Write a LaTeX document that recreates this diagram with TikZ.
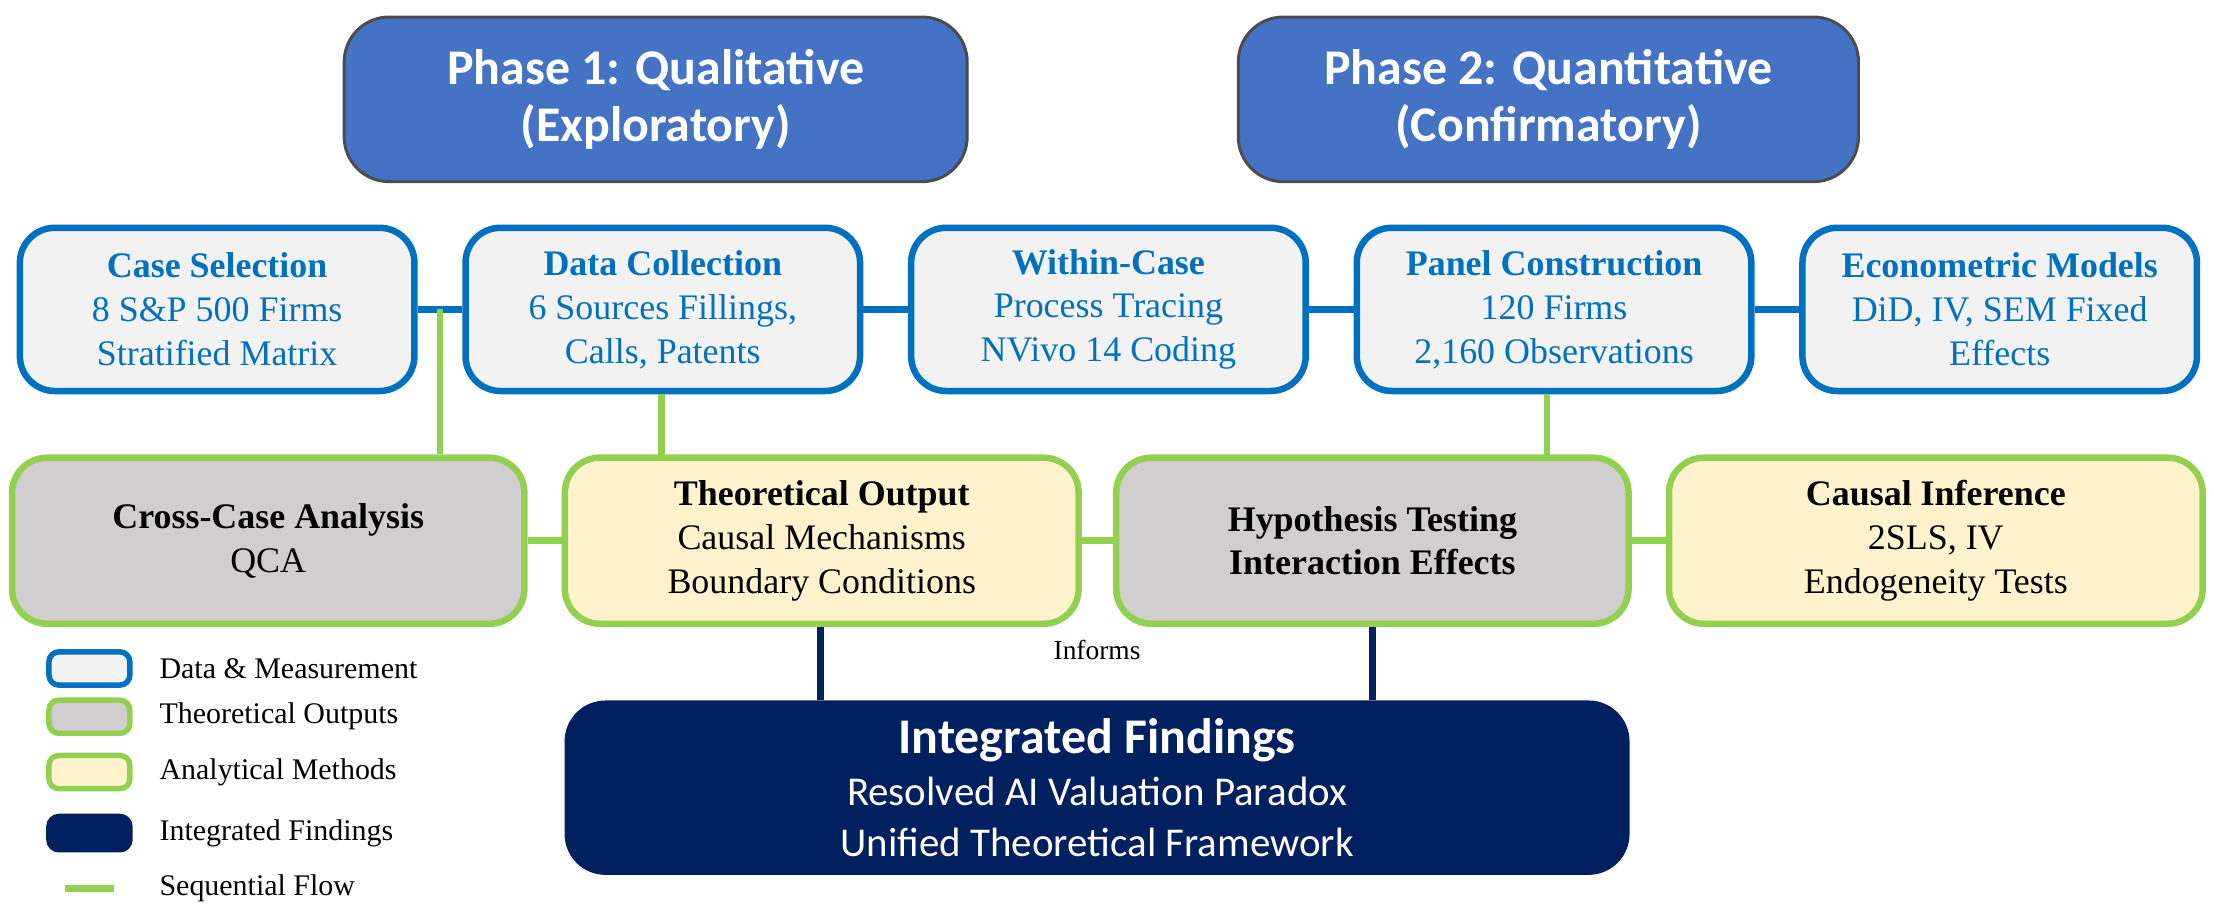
\documentclass[tikz,border=0pt]{standalone}
\usepackage{fontspec}
\setmainfont{Liberation Serif}
\newfontfamily\calfont{Carlito}
\usetikzlibrary{positioning}
\definecolor{phaseblue}{HTML}{4472C4}
\definecolor{datablue}{HTML}{0070C0}
\definecolor{flowgreen}{HTML}{92D050}
\definecolor{boxgray}{HTML}{F2F2F2}
\definecolor{theogray}{HTML}{D0CECE}
\definecolor{methyellow}{HTML}{FFF2CC}
\definecolor{navy}{HTML}{002060}
\tikzset{
  phasebox/.style={draw=black!70, fill=phaseblue, rounded corners=9pt, text=white,
    font=\calfont\fontsize{10}{11.5}\selectfont\bfseries, align=center, line width=0.6pt},
  databox/.style={draw=datablue, fill=boxgray, rounded corners=7pt, text=datablue,
    font=\fontsize{7.2}{8.8}\selectfont, align=center, line width=1.3pt},
  theobox/.style={draw=flowgreen, fill=theogray, rounded corners=7pt,
    font=\fontsize{7.2}{8.8}\selectfont, align=center, line width=1.3pt},
  methbox/.style={theobox, fill=methyellow},
  findbox/.style={draw=navy, fill=navy, rounded corners=8pt, text=white,
    font=\calfont\fontsize{8.2}{10.4}\selectfont, align=center},
  flow/.style={flowgreen, line width=1.3pt},
  dflow/.style={datablue, line width=1.3pt},
  nflow/.style={navy, line width=1.3pt},
  legbox/.style={rounded corners=2pt, line width=1.1pt, minimum width=57*0.01cm, minimum height=22*0.01cm},
  legtext/.style={anchor=west, font=\fontsize{6}{7}\selectfont}
}
\begin{document}
\begin{tikzpicture}[x=0.01cm,y=-0.01cm]
\useasboundingbox (0,0) rectangle (1560,645);
% phases
\node[phasebox, minimum width=439*0.01cm, minimum height=116*0.01cm] (ph1) at (462,70) {Phase 1: Qualitative\\(Exploratory)};
\node[phasebox, minimum width=437*0.01cm, minimum height=116*0.01cm] (ph2) at (1091,70) {Phase 2: Quantitative\\(Confirmatory)};
% data row
\foreach \n/\x/\t in {cs/153/{\textbf{Case Selection}\\8 S\&P 500 Firms\\Stratified Matrix},
  dc/467/{\textbf{Data Collection}\\6 Sources Fillings,\\Calls, Patents},
  wc/781/{\textbf{Within-Case}\\Process Tracing\\NVivo 14 Coding},
  pc/1095/{\textbf{Panel Construction}\\120 Firms\\2,160 Observations},
  em/1409/{\textbf{Econometric Models}\\DiD, IV, SEM Fixed\\Effects}}
  \node[databox, minimum width=278*0.01cm, minimum height=115*0.01cm] (\n) at (\x,218) {\t};
\draw[dflow] (cs) -- (dc);
\draw[dflow] (dc) -- (wc);
\draw[dflow] (wc) -- (pc);
\draw[dflow] (pc) -- (em);
% analysis row
\node[theobox, minimum width=361*0.01cm, minimum height=117*0.01cm] (cc) at (189,381) {\textbf{Cross-Case Analysis}\\QCA};
\node[methbox, minimum width=362*0.01cm, minimum height=117*0.01cm] (to) at (579,381) {\textbf{Theoretical Output}\\Causal Mechanisms\\Boundary Conditions};
\node[theobox, minimum width=361*0.01cm, minimum height=117*0.01cm] (ht) at (967,381) {\textbf{Hypothesis Testing}\\\textbf{Interaction Effects}};
\node[methbox, minimum width=376*0.01cm, minimum height=117*0.01cm] (ci) at (1364,381) {\textbf{Causal Inference}\\2SLS, IV\\Endogeneity Tests};
\draw[flow] (cc) -- (to);
\draw[flow] (to) -- (ht);
\draw[flow] (ht) -- (ci);
\coordinate (csdc) at (310,218);
\draw[flow] (csdc) -- (csdc |- cc.north);
\draw[flow] (dc.south -| 466,0) -- (466,323);
\draw[flow] (pc.south -| 1090,0) -- (1090,323);
% findings
\node[findbox, minimum width=749*0.01cm, minimum height=115*0.01cm] (if) at (773,555)
  {{\fontsize{10}{12}\selectfont\bfseries Integrated Findings}\\Resolved AI Valuation Paradox\\Unified Theoretical Framework};
\draw[nflow] (to.south -| 578,0) -- (if.north -| 578,0);
\draw[nflow] (ht.south -| 967,0) -- (if.north -| 967,0);
\node[font=\fontsize{5.5}{6}\selectfont] (inf) at (773,458) {Informs};
% legend
\node[legbox, draw=datablue, fill=boxgray] (l1) at (63,471) {};
\node[legbox, draw=flowgreen, fill=theogray] (l2) at (63,505) {};
\node[legbox, draw=flowgreen, fill=methyellow] (l3) at (63,544) {};
\node[legbox, draw=navy, fill=navy] (l4) at (63,587) {};
\coordinate (l5a) at (46,626); \coordinate (l5b) at (80,626);
\draw[flow] (l5a) -- (l5b);
\node[legtext] (t1) at (100,471) {Data \& Measurement};
\node[legtext] (t2) at (100,505) {Theoretical Outputs};
\node[legtext] (t3) at (100,544) {Analytical Methods};
\node[legtext] (t4) at (100,587) {Integrated Findings};
\node[legtext] (t5) at (100,626) {Sequential Flow};
\end{tikzpicture}
\end{document}
